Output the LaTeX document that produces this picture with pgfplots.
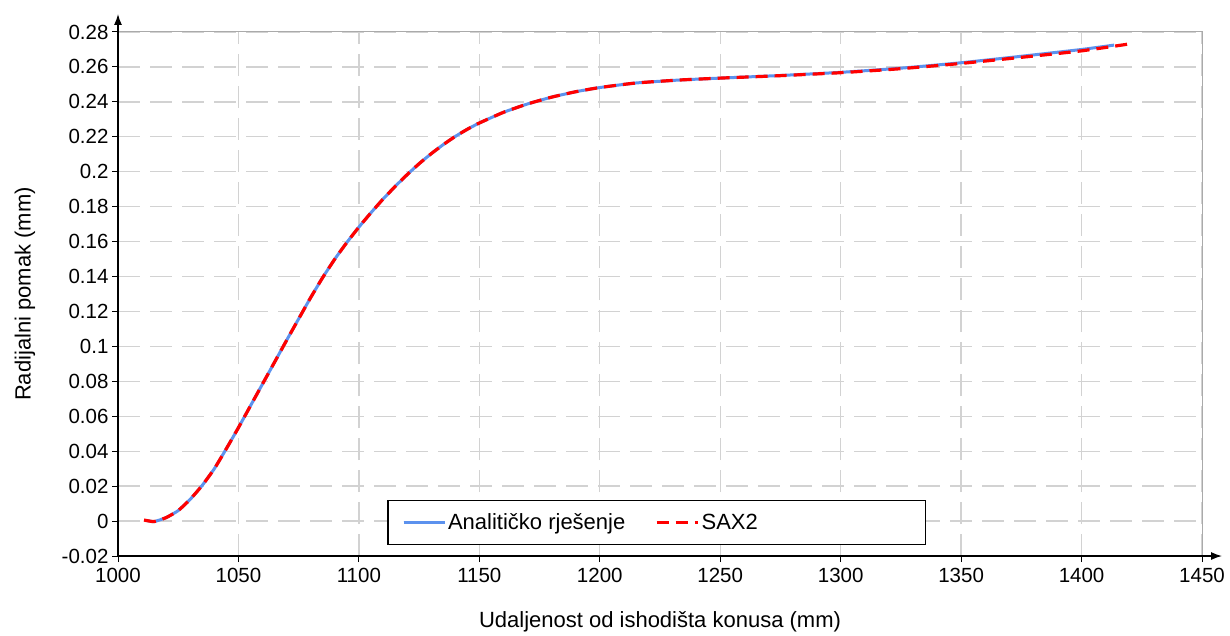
\documentclass[border=0pt]{standalone}
\usepackage{fontspec}
\setmainfont{Liberation Sans}
\usepackage{pgfplots}
\pgfplotsset{compat=1.18}
\usetikzlibrary{arrows.meta}
\definecolor{anblue}{RGB}{92,146,238}
\definecolor{gridgray}{RGB}{210,210,210}
\definecolor{boxgray}{RGB}{170,170,170}

\pgfplotstableread{
x y
1012 0.0003
1015 -0.0003
1020 0.0020
1025 0.0060
1030 0.0125
1035 0.0205
1040 0.0300
1045 0.0415
1050 0.0535
1055 0.0660
1060 0.0785
1065 0.0910
1070 0.1035
1075 0.1158
1080 0.1280
1085 0.1395
1090 0.1500
1095 0.1595
1100 0.1683
1105 0.1765
1110 0.1843
1115 0.1915
1120 0.1983
1125 0.2046
1130 0.2103
1135 0.2155
1140 0.2202
1145 0.2243
1150 0.2279
1160 0.2340
1170 0.2388
1180 0.2427
1190 0.2458
1200 0.2482
1215 0.2508
1233 0.2525
1250 0.2536
1275 0.2551
1300 0.2569
1325 0.2593
1350 0.2624
1375 0.2661
1400 0.2700
1413.5 0.2725
}\analitic

\pgfplotstableread{
x y
1010.8 0.0006
1015 -0.0003
1020 0.0020
1025 0.0060
1030 0.0125
1035 0.0205
1040 0.0300
1045 0.0415
1050 0.0535
1055 0.0660
1060 0.0785
1065 0.0910
1070 0.1035
1075 0.1158
1080 0.1280
1085 0.1395
1090 0.1500
1095 0.1595
1100 0.1683
1105 0.1765
1110 0.1843
1115 0.1915
1120 0.1983
1125 0.2046
1130 0.2103
1135 0.2155
1140 0.2202
1145 0.2243
1150 0.2279
1160 0.2340
1170 0.2388
1180 0.2427
1190 0.2458
1200 0.2482
1215 0.2508
1233 0.2525
1250 0.2536
1275 0.2550
1300 0.2567
1325 0.2590
1350 0.2620
1375 0.2655
1400 0.2692
1421 0.2734
}\saxtwo

\begin{document}
\begin{tikzpicture}
\begin{axis}[
  name=ax,
  scale only axis, width=1084pt, height=524pt,
  xmin=1000, xmax=1450, ymin=-0.02, ymax=0.28,
  xtick={1000,1050,1100,1150,1200,1250,1300,1350,1400,1450},
  xticklabels={1000,1050,1100,1150,1200,1250,1300,1350,1400,1450},
  ytick={-0.02,0,0.02,0.04,0.06,0.08,0.1,0.12,0.14,0.16,0.18,0.2,0.22,0.24,0.26,0.28},
  yticklabels={-0.02,0,0.02,0.04,0.06,0.08,0.1,0.12,0.14,0.16,0.18,0.2,0.22,0.24,0.26,0.28},
  xtick pos=bottom, ytick pos=left,
  tick align=outside, major tick length=6pt,
  tick style={black, line width=1pt},
  grid=major,
  major grid style={gridgray, line width=1.3pt, dash pattern=on 22pt off 10pt},
  axis line style={draw=boxgray, line width=1pt},
  ticklabel style={font=\fontsize{20.5}{24}\selectfont, text=black},
  xticklabel style={yshift=-3pt},
  label style={font=\fontsize{22}{26}\selectfont},
  xlabel={Udaljenost od ishodišta konusa (mm)},
  ylabel={Radijalni pomak (mm)},
  xlabel style={at={(axis description cs:0.5,-0.126)}, anchor=center},
  ylabel style={at={(axis description cs:-0.0858,0.5)}, anchor=center},
  legend columns=2,
  legend style={at={(0.4972,0.021)}, anchor=south, draw=black, line width=1.2pt,
    fill=white, font=\fontsize{22}{26}\selectfont,
    inner xsep=14pt, inner ysep=11pt,
    /tikz/every even column/.append style={column sep=28pt}},
  legend image code/.code={\draw[#1] (0pt,0pt) -- (33pt,0pt); \path (0pt,0pt) -- (41pt,0pt);},
]
\addplot[anblue, line width=3pt, smooth, tension=0.3] table {\analitic};
\addlegendentry{Analitičko rješenje}
\addplot[red, line width=3.2pt, dash pattern=on 12pt off 7pt, smooth, tension=0.3] table {\saxtwo};
\addlegendentry{SAX2\hspace*{152pt}}
\end{axis}
\draw[black, line width=1.3pt, -{Latex[length=11pt,width=8pt]}] (ax.south west) -- ([yshift=18pt]ax.north west);
\draw[black, line width=1.3pt, -{Latex[length=11pt,width=8pt]}] (ax.south west) -- ([xshift=20pt]ax.south east);
\path ([shift={(-118pt,-77pt)}]ax.south west) rectangle ([shift={(28pt,32pt)}]ax.north east);
\end{tikzpicture}
\end{document}
